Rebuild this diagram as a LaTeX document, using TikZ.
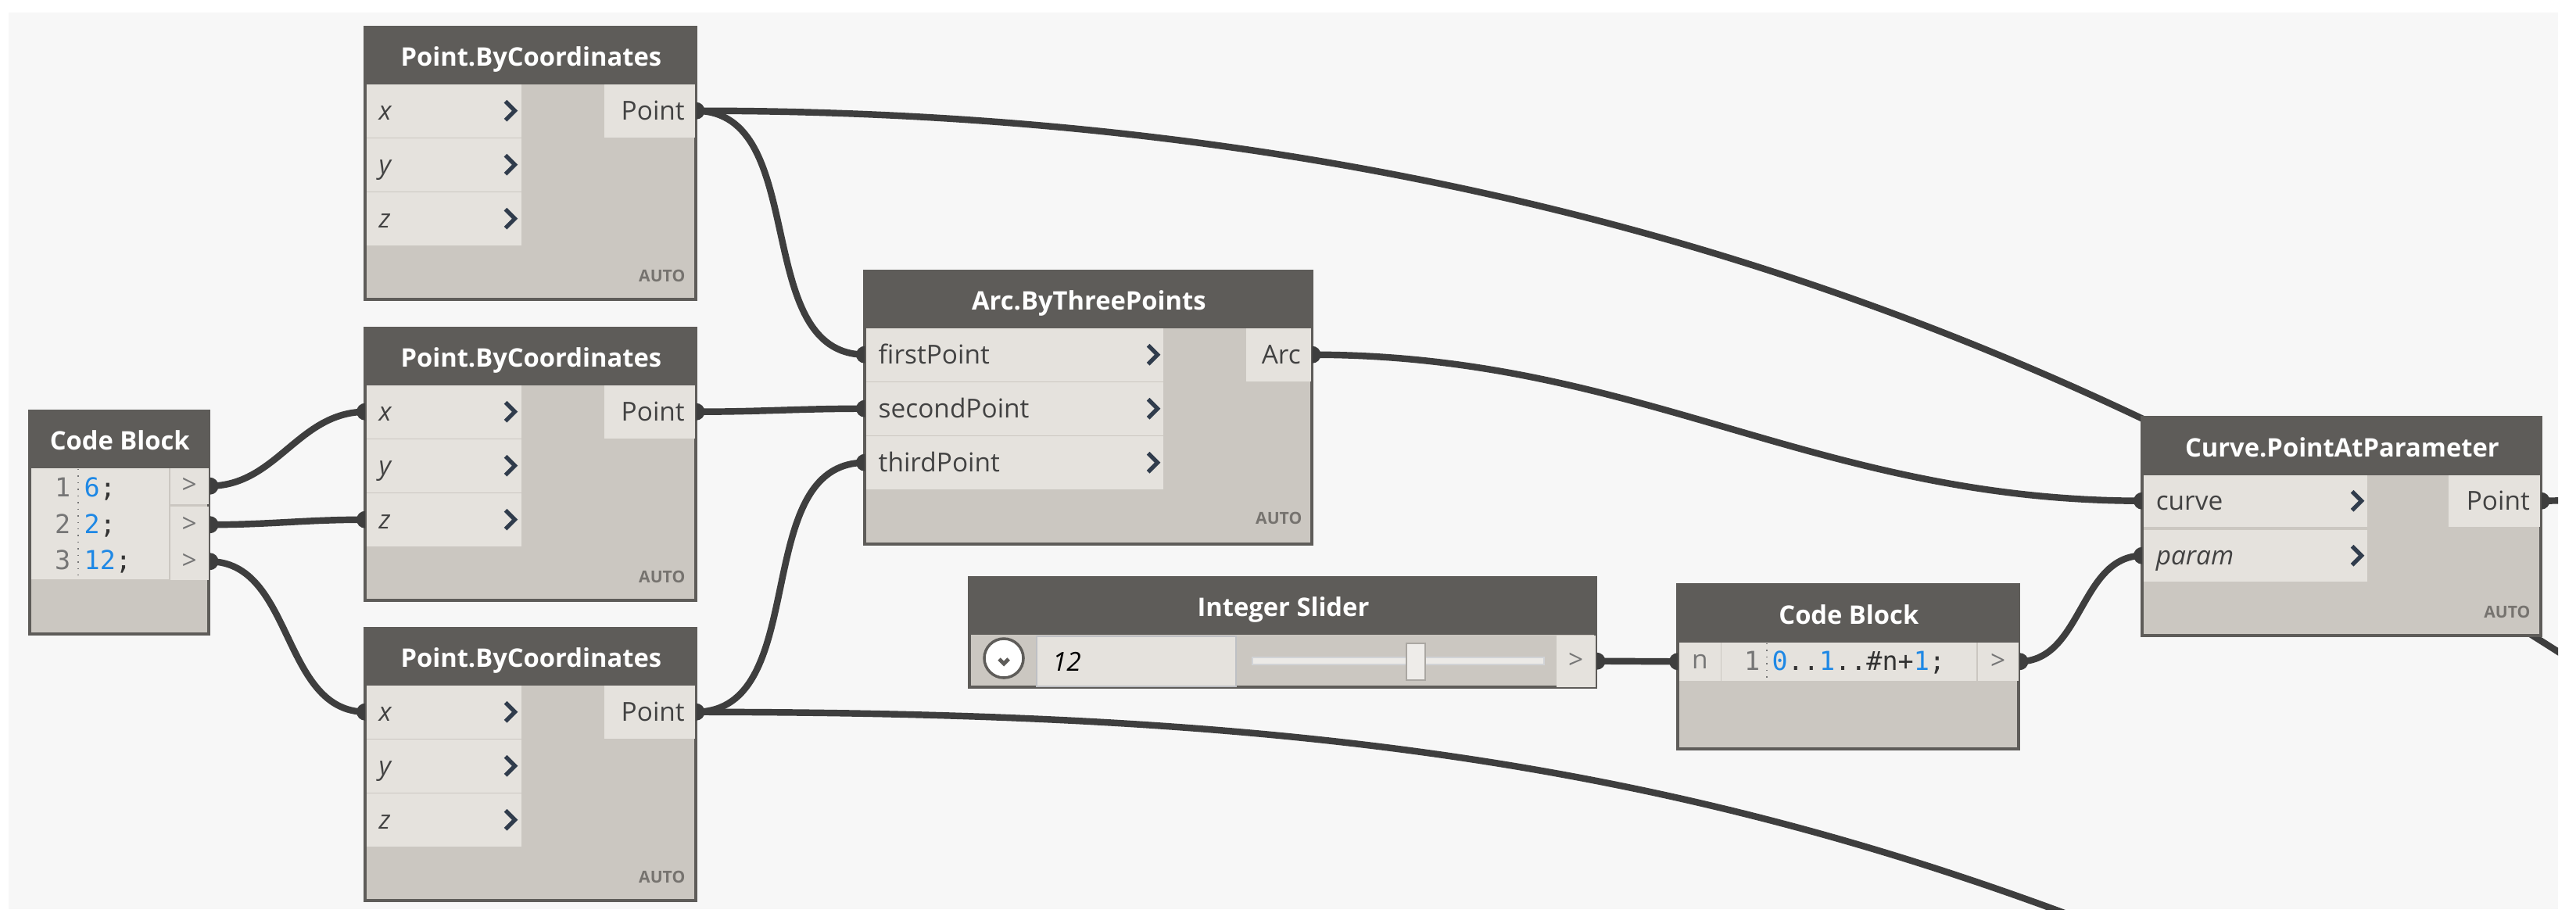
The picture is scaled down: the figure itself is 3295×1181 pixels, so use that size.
\documentclass[tikz,border=0pt]{standalone}
\usepackage{fontspec}
\setmainfont{Open Sans}
\setmonofont{DejaVu Sans Mono}
\usepackage{tikz}
\usetikzlibrary{backgrounds}
\definecolor{canvas}{RGB}{247,247,247}
\definecolor{headc}{RGB}{94,92,89}
\definecolor{bodyc}{RGB}{203,199,193}
\definecolor{portc}{RGB}{229,226,221}
\definecolor{wirec}{RGB}{62,62,62}
\definecolor{labelc}{RGB}{66,66,66}
\definecolor{chevc}{RGB}{48,60,76}
\definecolor{numc}{RGB}{118,118,118}
\definecolor{codeblue}{RGB}{30,136,229}
\definecolor{autoc}{RGB}{118,115,111}
\definecolor{boxc}{RGB}{190,192,196}
\definecolor{trackc}{RGB}{236,234,231}
\definecolor{thumbc}{RGB}{238,236,233}
\definecolor{thumbedge}{RGB}{170,167,162}

\begin{document}
\begin{tikzpicture}[x=0.01cm,y=-0.01cm,
    wire/.style={draw=wirec,line width=2.4pt},
    bodybox/.style={fill=bodyc,draw=headc,line width=1pt},
    head/.style={anchor=north west,fill=headc,text=white,inner sep=0,
      minimum height=0.72cm,text height=0.32cm,text depth=0.06cm,
      font=\bfseries\fontsize{9.3}{11}\selectfont},
    inport/.style={anchor=north west,fill=portc,text=labelc,inner xsep=0.16cm,
      inner ysep=0,minimum height=0.68cm,text height=0.3cm,text depth=0.06cm,
      text width=#1,align=left,font=\fontsize{9.5}{11}\selectfont},
    outport/.style={inport=#1,align=right,inner xsep=0.13cm},
    cbport/.style={anchor=north west,fill=portc,text=numc,inner sep=0,
      minimum width=#1,font=\fontsize{9.5}{11}\selectfont},
    chev/.style={draw=chevc,line width=1.5pt},
    autotag/.style={anchor=east,text=autoc,inner sep=0,
      font=\bfseries\fontsize{6}{7}\selectfont},
    code/.style={anchor=base west,inner sep=0,text=black!80,
      font=\ttfamily\fontsize{9.5}{11}\selectfont},
    lineno/.style={anchor=base east,inner sep=0,text=numc,
      font=\ttfamily\fontsize{9.5}{11}\selectfont}]
    \useasboundingbox (0,0) rectangle (3295,1181);

    % POINT.BYCOORDINATES NODES
    \foreach \n/\y in {pa/35,pb/420,pc/804}{
      \draw[bodybox] (467,\y) rectangle (890,\y+348);
      \node[head,minimum width=4.23cm] (\n-t) at (467,\y) {Point.ByCoordinates};
      \node[inport=1.66cm] (\n-x) at (468,\y+72) {\itshape x};
      \node[inport=1.66cm] (\n-y) at (468,\y+141) {\itshape y};
      \node[inport=1.66cm] (\n-z) at (468,\y+210) {\itshape z};
      \node[outport=0.9cm] (\n-out) at (772,\y+72) {Point};
      \foreach \r in {x,y,z}
        \draw[chev] ([xshift=-0.21cm,yshift=0.12cm]\n-\r.east) -- ++(0.12cm,-0.12cm) -- ++(-0.12cm,-0.12cm);
      \node[autotag] (\n-a) at (877,\y+318) {AUTO};
    }

    % CODE BLOCK (NUMBERS)
    \draw[bodybox] (38,526) rectangle (267,811);
    \node[head,minimum width=2.29cm] (cb1-t) at (38,526) {Code Block};
    \node[cbport=1.76cm,minimum height=1.42cm] (cb1-code) at (39,598) {};
    \node[cbport=0.49cm,minimum height=0.46cm] (cb1-o1) at (217,598) {>};
    \node[cbport=0.49cm,minimum height=0.47cm] (cb1-o2) at (217,647) {>};
    \node[cbport=0.49cm,minimum height=0.47cm] (cb1-o3) at (217,694) {>};
    \draw[dotted,numc] (100,600) -- (100,739);
    \foreach \i/\v/\b in {1/6/635,2/2/682,3/12/728}{
      \node[lineno] (cb1-n\i) at (91,\b) {\i};
      \node[code] (cb1-l\i) at (107,\b) {\textcolor{codeblue}{\v};};
    }

    % ARC.BYTHREEPOINTS
    \draw[bodybox] (1106,347) rectangle (1678,696);
    \node[head,minimum width=5.72cm] (arc-t) at (1106,347) {Arc.ByThreePoints};
    \node[inport=3.48cm] (arc-1) at (1107,419) {firstPoint};
    \node[inport=3.48cm] (arc-2) at (1107,488) {secondPoint};
    \node[inport=3.48cm] (arc-3) at (1107,557) {thirdPoint};
    \node[outport=0.57cm] (arc-out) at (1593,419) {Arc};
    \foreach \r in {1,2,3}
      \draw[chev] ([xshift=-0.2cm,yshift=0.12cm]arc-\r.east) -- ++(0.12cm,-0.12cm) -- ++(-0.12cm,-0.12cm);
    \node[autotag] (arc-a) at (1666,663) {AUTO};

    % INTEGER SLIDER
    \draw[bodybox] (1240,739) rectangle (2041,879);
    \node[head,minimum width=8.01cm] (sl-t) at (1240,739) {Integer Slider};
    \node[circle,draw=headc,fill=white,line width=1pt,minimum size=0.5cm,inner sep=0] (sl-btn) at (1284,842) {};
    \draw[draw=headc,line width=1.4pt] ([xshift=-0.06cm,yshift=-0.01cm]sl-btn.center) -- ++(0.06cm,-0.06cm) -- ++(0.06cm,0.06cm);
    \node[anchor=north west,fill=portc,draw=boxc,line width=0.6pt,inner xsep=0.2cm,inner ysep=0,
      minimum height=0.64cm,text width=2.15cm,align=left,text height=0.3cm,text depth=0.06cm,
      font=\itshape\fontsize{9.5}{11}\selectfont] (sl-val) at (1325,813) {12};
    \draw[fill=trackc,draw=boxc!70,line width=0.5pt] (1602,841) rectangle (1975,850);
    \node[anchor=north west,fill=thumbc,draw=thumbedge,line width=0.6pt,minimum width=0.24cm,
      minimum height=0.47cm,inner sep=0] (sl-thumb) at (1798,822) {};
    \node[cbport=0.5cm,minimum height=0.66cm] (sl-out) at (1990,812) {>};

    % CODE BLOCK (RANGE)
    \draw[bodybox] (2146,748) rectangle (2582,958);
    \node[head,minimum width=4.36cm,minimum height=0.73cm] (cb2-t) at (2146,748) {Code Block};
    \node[cbport=0.53cm,minimum height=0.49cm] (cb2-n) at (2147,821) {n};
    \node[cbport=3.26cm,minimum height=0.49cm] (cb2-code) at (2201,821) {};
    \node[cbport=0.52cm,minimum height=0.49cm] (cb2-out) at (2529,821) {>};
    \draw[dotted,numc] (2260,823) -- (2260,868);
    \node[lineno] (cb2-n1) at (2252,857) {1};
    \node[code] (cb2-l1) at (2266,857) {\textcolor{codeblue}{0}..\textcolor{codeblue}{1}..\#n+\textcolor{codeblue}{1};};

    % CURVE.POINTATPARAMETER
    \draw[bodybox] (2740,534) rectangle (3250,813);
    \node[head,minimum width=5.1cm,minimum height=0.73cm] (cv-t) at (2740,534) {Curve.PointAtParameter};
    \node[inport=2.54cm,minimum height=0.66cm] (cv-c) at (2741,607) {curve};
    \node[inport=2.54cm,minimum height=0.66cm] (cv-p) at (2741,677) {\itshape param};
    \node[outport=0.91cm,minimum height=0.66cm] (cv-out) at (3131,607) {Point};
    \foreach \r in {c,p}
      \draw[chev] ([xshift=-0.2cm,yshift=0.12cm]cv-\r.east) -- ++(0.12cm,-0.12cm) -- ++(-0.12cm,-0.12cm);
    \node[autotag] (cv-a) at (3237,783) {AUTO};

    % WIRES
    \coordinate (farA) at (3420,930);
    \coordinate (farC) at (3150,1390);
    \coordinate (farP) at (3300,640);
    \begin{scope}[on background layer]
      \fill[white] (0,0) rectangle (3295,1181);
      \fill[canvas] (11,16) rectangle (3272,1163);
      \clip (11,16) rectangle (3272,1163);
      \draw[wire] (pa-out.east) to[out=0,in=180] (arc-1.west);
      \draw[wire] (pb-out.east) to[out=0,in=180] (arc-2.west);
      \draw[wire] (pc-out.east) to[out=0,in=180] (arc-3.west);
      \draw[wire] (cb1-o1.east) to[out=0,in=180] (pb-x.west);
      \draw[wire] (cb1-o2.east) to[out=0,in=180] (pb-z.west);
      \draw[wire] (cb1-o3.east) to[out=0,in=180] (pc-x.west);
      \draw[wire] (arc-out.east) to[out=0,in=180] (cv-c.west);
      \draw[wire] (sl-out.east) to[out=0,in=180] (cb2-n.west);
      \draw[wire] (cb2-out.east) to[out=0,in=180] (cv-p.west);
      \draw[wire] (cv-out.east) -- (farP);
      \draw[wire] (pa-out.east) .. controls (2200,141) and (2950,620) .. (farA);
      \draw[wire] (pc-out.east) .. controls (1800,912) and (2350,995) .. (farC);
    \end{scope}

    % PORT PLUGS
    \foreach \p in {pa-out,pb-out,pc-out,arc-out,cv-out,sl-out,cb2-out,cb1-o1,cb1-o2,cb1-o3}
      \fill[wirec] ([xshift=0.01cm]\p.east) ++(0cm,0.11cm) arc[start angle=90,end angle=-90,radius=0.11cm] -- cycle;
    \foreach \p in {arc-1,arc-2,arc-3,pb-x,pb-z,pc-x,cv-c,cv-p,cb2-n}
      \fill[wirec] ([xshift=-0.01cm]\p.west) ++(0cm,0.11cm) arc[start angle=90,end angle=270,radius=0.11cm] -- cycle;
\end{tikzpicture}
\end{document}
